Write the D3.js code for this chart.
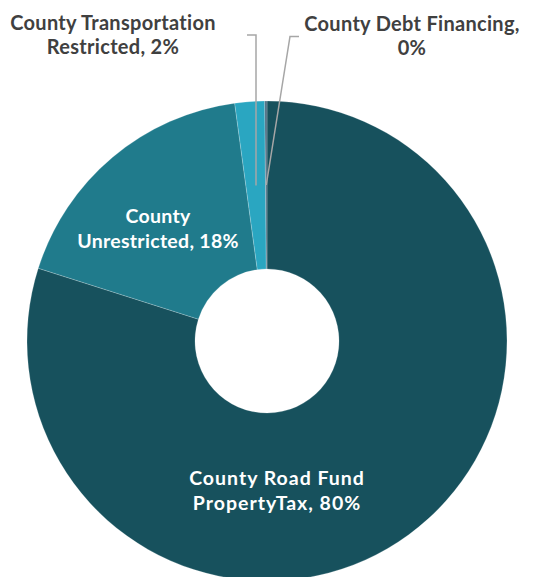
<!DOCTYPE html>
<html>
<head>
<meta charset="utf-8">
<script src="https://cdn.jsdelivr.net/npm/d3@7/dist/d3.min.js"></script>
<style>
  html, body { margin: 0; padding: 0; background: #fff; }
  svg { display: block; }
  text { font-family: Lato, "Open Sans", sans-serif; font-weight: 700; }
</style>
</head>
<body>
<svg id="chart" width="546" height="577"></svg>
<script>
// Road fund revenue sources, share of total (%)
const categories = [
  "County Road Fund PropertyTax",
  "County Unrestricted",
  "County Transportation Restricted",
  "County Debt Financing"
];
const values = [79.9, 17.95, 2.0, 0.15];
const colors = ["#17515d", "#207b8c", "#2aa6c1", "#4b6b80"];
// label lines as drawn (category text split across lines)
const labelLines = [
  ["County Road Fund", "PropertyTax, "],
  ["County", "Unrestricted, "],
  ["County Transportation", "Restricted, "],
  ["County Debt Financing,", ""]
];

const svg = d3.select("#chart");
const cx = 267, cy = 341, outerR = 240, innerR = 72;

const data = categories.map((c, i) => ({ name: c, value: values[i], color: colors[i], lines: labelLines[i] }));

const pie = d3.pie().sort(null).value(d => d.value);
const arcs = pie(data);
const arc = d3.arc().innerRadius(innerR).outerRadius(outerR);

const g = svg.append("g").attr("transform", `translate(${cx},${cy})`);

g.selectAll("path.slice")
  .data(arcs)
  .enter().append("path")
  .attr("class", "slice")
  .attr("d", arc)
  .attr("fill", d => d.data.color)
  .attr("stroke", "#ffffff")
  .attr("stroke-opacity", 0.35)
  .attr("stroke-width", 0.6);

const pct = v => Math.round(v) + "%";

// Inside labels (white) for the two large slices
const insideLabelPos = [
  { x: 10, y: 144, ls: 1.0 },   // road fund, relative to center
  { x: -109, y: -118, ls: 0.3 } // unrestricted
];
[0, 1].forEach(i => {
  const d = arcs[i].data;
  const p = insideLabelPos[i];
  const t = g.append("text")
    .attr("text-anchor", "middle")
    .attr("fill", "#ffffff")
    .attr("font-size", 19.5)
    .attr("letter-spacing", p.ls)
    .attr("x", p.x)
    .attr("y", p.y);
  t.append("tspan").attr("x", p.x).attr("dy", 0).text(d.lines[0]);
  t.append("tspan").attr("x", p.x).attr("dy", 24.5).text(d.lines[1] + pct(d.value));
});

// Outside labels with leader lines for the two small slices
const leaderR = 156;
const outside = [
  { i: 2, tx: 113, ty: 30, elbow: [256, 35], start: [247, 35] },
  { i: 3, tx: 412, ty: 31, elbow: [290, 36.5], start: [299, 36.5] }
];
outside.forEach(o => {
  const a = arcs[o.i];
  const mid = (a.startAngle + a.endAngle) / 2;
  const px = cx + Math.sin(mid) * leaderR;
  const py = cy - Math.cos(mid) * leaderR;
  const endX = o.i === 2 ? o.elbow[0] : px;
  svg.append("polyline")
    .attr("points", [o.start, o.elbow, [endX, py]].map(p => p.join(",")).join(" "))
    .attr("fill", "none")
    .attr("stroke", "#a6a6a6")
    .attr("stroke-width", 1.5);

  const d = a.data;
  const t = svg.append("text")
    .attr("text-anchor", "middle")
    .attr("fill", "#404040")
    .attr("font-size", 20)
    .attr("letter-spacing", 0.3)
    .attr("x", o.tx)
    .attr("y", o.ty);
  t.append("tspan").attr("x", o.tx).attr("dy", 0).text(d.lines[0]);
  t.append("tspan").attr("x", o.tx).attr("dy", 24).text(d.lines[1] + pct(d.value));
});
</script>
</body>
</html>
